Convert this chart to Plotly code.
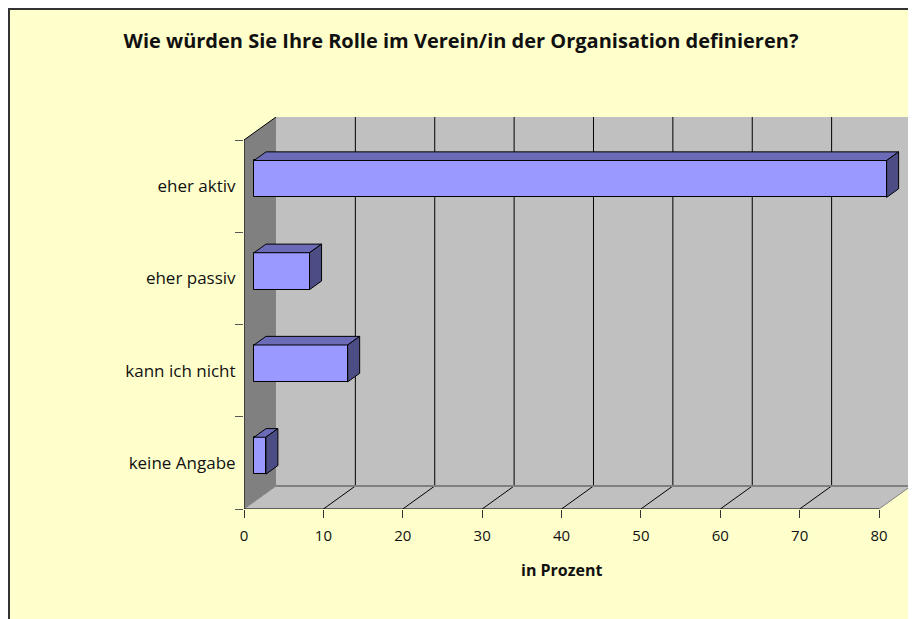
import plotly.graph_objects as go

# ---- data ----
categories = ["eher aktiv", "eher passiv", "kann ich nicht", "keine Angabe"]
values = [79.7, 7.0, 11.8, 1.5]
x_ticks = [0, 10, 20, 30, 40, 50, 60, 70, 80]
chart_title = "Wie würden Sie Ihre Rolle im Verein/in der Organisation definieren?"
x_title = "in Prozent"

# ---- 3D geometry (in axis units) ----
X_MAX = 80
DX = 4.03      # depth offset in x units
DY = 0.2493    # depth offset in y units
BAR_H = 0.40   # height of front face
D0 = 0.3125    # bar front position within depth
BD = 0.375     # bar depth fraction
FONT = "Open Sans"

W, H = 908, 611
ML, MR, MT, MB = 236, 5, 109, 110
PW = W - ML - MR
PH = H - MT - MB

n = len(categories)
centers = [n - 1 - i + 0.5 for i in range(n)]
front_y = [c + D0 * DY for c in centers]
base = D0 * DX

FRONT = "#9999FF"
TOP = "#6B6BB8"
SIDE = "#4D4D85"

fig = go.Figure()

fig.add_trace(go.Bar(
    x=values, y=front_y, base=base, orientation="h", width=BAR_H,
    marker=dict(color=FRONT, line=dict(color="black", width=1)),
    hoverinfo="skip", showlegend=False,
))

for v, fy in zip(values, front_y):
    x0 = base
    x1 = base + v
    yt = fy + BAR_H / 2
    yb = fy - BAR_H / 2
    ddx = BD * DX
    ddy = BD * DY
    fig.add_trace(go.Scatter(
        x=[x0, x1, x1 + ddx, x0 + ddx, x0], y=[yt, yt, yt + ddy, yt + ddy, yt],
        mode="lines", fill="toself", fillcolor=TOP,
        line=dict(color="black", width=1), hoverinfo="skip", showlegend=False))
    fig.add_trace(go.Scatter(
        x=[x1, x1 + ddx, x1 + ddx, x1, x1], y=[yb, yb + ddy, yt + ddy, yt, yb],
        mode="lines", fill="toself", fillcolor=SIDE,
        line=dict(color="black", width=1), hoverinfo="skip", showlegend=False))

shapes = []
# chart area border (paper coords); right/bottom edges lie outside the view
shapes.append(dict(type="rect", xref="paper", yref="paper",
                   x0=(1 - ML) / PW, x1=(W + 20 - ML) / PW,
                   y0=-(MB + 20) / PH, y1=(PH + MT - 1) / PH,
                   fillcolor="#FFFFCC", line=dict(color="#333333", width=2), layer="below"))
# left wall
shapes.append(dict(type="path", xref="x", yref="y", layer="below",
                   path=f"M 0 0 L 0 {n} L {DX} {n + DY} L {DX} {DY} Z",
                   fillcolor="#808080", line=dict(width=0)))
# back wall
shapes.append(dict(type="rect", xref="x", yref="y", layer="below",
                   x0=DX, x1=X_MAX + DX, y0=DY, y1=n + DY,
                   fillcolor="#C0C0C0", line=dict(width=0)))
# floor
shapes.append(dict(type="path", xref="x", yref="y", layer="below",
                   path=f"M 0 0 L {X_MAX} 0 L {X_MAX + DX} {DY} L {DX} {DY} Z",
                   fillcolor="#C0C0C0", line=dict(width=0)))
# grid lines
for t in x_ticks[1:]:
    col = "black" if t < X_MAX else "#808080"
    w = 1 if t < X_MAX else 2
    shapes.append(dict(type="line", xref="x", yref="y", layer="below",
                       x0=t + DX, x1=t + DX, y0=DY, y1=n + DY, line=dict(color=col, width=w)))
    shapes.append(dict(type="line", xref="x", yref="y", layer="below",
                       x0=t, x1=t + DX, y0=0, y1=DY, line=dict(color=col, width=1)))
shapes.append(dict(type="line", xref="x", yref="y", layer="below",
                   x0=DX, x1=X_MAX + DX, y0=DY, y1=DY, line=dict(color="#808080", width=2)))
shapes.append(dict(type="line", xref="x", yref="y", layer="below",
                   x0=0, x1=DX, y0=0, y1=DY, line=dict(color="#808080", width=1)))
shapes.append(dict(type="line", xref="x", yref="y", layer="below",
                   x0=0, x1=X_MAX, y0=0, y1=0, line=dict(color="black", width=1)))
shapes.append(dict(type="line", xref="x", yref="y", layer="below",
                   x0=0, x1=0, y0=0, y1=n, line=dict(color="black", width=1)))
shapes.append(dict(type="line", xref="x", yref="y", layer="below",
                   x0=0, x1=DX, y0=n, y1=n + DY, line=dict(color="black", width=1)))

fig.update_layout(
    width=W, height=H,
    margin=dict(l=ML, r=MR, t=MT, b=MB),
    paper_bgcolor="#FFFFCC", plot_bgcolor="rgba(0,0,0,0)",
    shapes=shapes, showlegend=False, hovermode=False,
    font=dict(family=FONT, size=17, color="#111111"),
    title=dict(text=f"<b>{chart_title}</b>", x=453 / W, xanchor="center",
               y=1 - 33 / H, yanchor="middle", font=dict(size=20, family=FONT)),
    xaxis=dict(range=[0, X_MAX + DX], tickvals=x_ticks, ticks="outside", ticklen=8,
               tickcolor="#333333", showgrid=False, zeroline=False, showline=False,
               tickfont=dict(size=15), ticklabelstandoff=5, fixedrange=True),
    yaxis=dict(range=[0, n + DY], tickvals=centers, ticktext=categories,
               ticks="outside", ticklen=4, tickcolor="rgba(0,0,0,0)",
               minor=dict(tickvals=list(range(n + 1)), ticks="outside", ticklen=8,
                          tickcolor="#555555", showgrid=False),
               showgrid=False, zeroline=False, showline=False, fixedrange=True),
    bargap=0,
    annotations=[dict(text=f"<b>{x_title}</b>", xref="x", yref="paper",
                      x=X_MAX / 2, y=-61 / PH, showarrow=False,
                      xanchor="center", yanchor="middle", font=dict(size=16, family=FONT))],
)

fig.write_html("out.html")
